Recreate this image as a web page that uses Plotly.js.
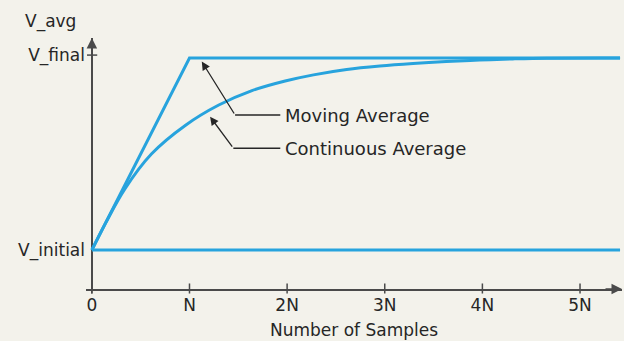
<!DOCTYPE html>
<html>
<head>
<meta charset="utf-8">
<script src="https://cdn.plot.ly/plotly-3.0.1.min.js"></script>
<style>html,body{margin:0;padding:0;background:#f3f2eb;}#chart{width:624px;height:341px;}</style>
</head>
<body>
<div id="chart"></div>
<script>
// Data (x in units of N samples, y normalised: V_initial = 0, V_final = 1)
const movingX = [0, 1, 5.41];
const movingY = [0, 1, 1];
const contX = [0, 0.14, 0.34, 0.61, 0.96, 1.30, 1.64, 1.98, 2.27, 2.61, 2.95, 3.29, 3.63, 3.97, 4.31, 4.66, 5.41];
const contY = [0, 0.14, 0.32, 0.50, 0.65, 0.755, 0.83, 0.88, 0.912, 0.94, 0.958, 0.971, 0.981, 0.989, 0.995, 0.999, 1.0];
const initialX = [0, 5.41];
const initialY = [0, 0];
const xTickVals = [0, 1, 2, 3, 4, 5];
const xTickText = ['0', 'N', '2N', '3N', '4N', '5N'];
const yTickVals = [0, 1.015];
const yTickText = ['V_initial', 'V_final'];

const blue = '#27a3dd';
const ink = '#262626';
const axisCol = '#4a4a4a';
const font = {family: 'DejaVu Sans, Arial, sans-serif', size: 17, color: ink};

const traces = [
  {x: initialX, y: initialY, mode: 'lines', line: {color: blue, width: 3}, name: 'V_initial', hoverinfo: 'skip'},
  {x: movingX, y: movingY, mode: 'lines', line: {color: blue, width: 3}, name: 'Moving Average'},
  {x: contX, y: contY, mode: 'lines', line: {color: blue, width: 3, shape: 'spline', smoothing: 1}, name: 'Continuous Average'}
];

const shapes = [];
xTickVals.forEach(v => shapes.push({type: 'line', xref: 'x', yref: 'paper', x0: v, x1: v, y0: -0.018, y1: 0.022, line: {color: axisCol, width: 1.5}}));
shapes.push({type: 'line', xref: 'x', yref: 'y', x0: -0.05, x1: 0.055, y0: yTickVals[1], y1: yTickVals[1], line: {color: axisCol, width: 1.5}});
// y-axis short extension below the x-axis
shapes.push({type: 'line', xref: 'x', yref: 'paper', x0: 0, x1: 0, y0: -0.018, y1: 0, line: {color: axisCol, width: 1.5}});
// leader line horizontal segments
shapes.push({type: 'line', xref: 'x', yref: 'y', x0: 1.467, x1: 1.93, y0: 0.703, y1: 0.703, line: {color: ink, width: 1.3}});
shapes.push({type: 'line', xref: 'x', yref: 'y', x0: 1.449, x1: 1.93, y0: 0.530, y1: 0.530, line: {color: ink, width: 1.3}});

const annotations = [
  {xref: 'x', yref: 'paper', x: 5.43, y: 0, ax: -18, ay: 0, text: '', showarrow: true, arrowhead: 2, arrowsize: 1.4, arrowwidth: 1.5, arrowcolor: axisCol},
  {xref: 'x', yref: 'paper', x: 0, y: 1, ax: 0, ay: 18, text: '', showarrow: true, arrowhead: 2, arrowsize: 1.4, arrowwidth: 1.5, arrowcolor: axisCol},
  {xref: 'paper', yref: 'paper', x: -0.014, y: 1.066, xanchor: 'right', yanchor: 'middle', text: 'V_avg', showarrow: false, font: font},
  {xref: 'x', yref: 'y', x: 1.126, y: 0.981, axref: 'x', ayref: 'y', ax: 1.467, ay: 0.703, text: '', showarrow: true, arrowhead: 2, arrowsize: 1.3, arrowwidth: 1.3, arrowcolor: ink},
  {xref: 'x', yref: 'y', x: 1.211, y: 0.694, axref: 'x', ayref: 'y', ax: 1.449, ay: 0.530, text: '', showarrow: true, arrowhead: 2, arrowsize: 1.3, arrowwidth: 1.3, arrowcolor: ink},
  {xref: 'x', yref: 'y', x: 1.96, y: 0.703, xanchor: 'left', yanchor: 'middle', text: 'Moving Average', showarrow: false, font: {family: font.family, size: 18, color: ink}},
  {xref: 'x', yref: 'y', x: 1.96, y: 0.530, xanchor: 'left', yanchor: 'middle', text: 'Continuous Average', showarrow: false, font: {family: font.family, size: 18, color: ink}}
];

const layout = {
  width: 624, height: 341,
  margin: {l: 86, r: 2, t: 38, b: 52},
  paper_bgcolor: '#f3f2eb', plot_bgcolor: '#f3f2eb',
  showlegend: false,
  font: font,
  xaxis: {
    range: [-0.06, 5.43], showgrid: false,
    showline: true, linecolor: axisCol, linewidth: 1.5,
    zeroline: true, zerolinecolor: axisCol, zerolinewidth: 1.5,
    tickmode: 'array', tickvals: xTickVals, ticktext: xTickText, ticks: '',
    ticklabelstandoff: 0,
    tickfont: font,
    title: {text: 'Number of Samples', font: font, standoff: 10}
  },
  yaxis: {
    range: [-0.203, 1.104], showgrid: false, showline: false, zeroline: false,
    tickmode: 'array', tickvals: yTickVals, ticktext: yTickText, ticks: '',
    tickfont: font
  },
  shapes: shapes,
  annotations: annotations
};

Plotly.newPlot('chart', traces, layout, {staticPlot: true, displayModeBar: false});
</script>
</body>
</html>
